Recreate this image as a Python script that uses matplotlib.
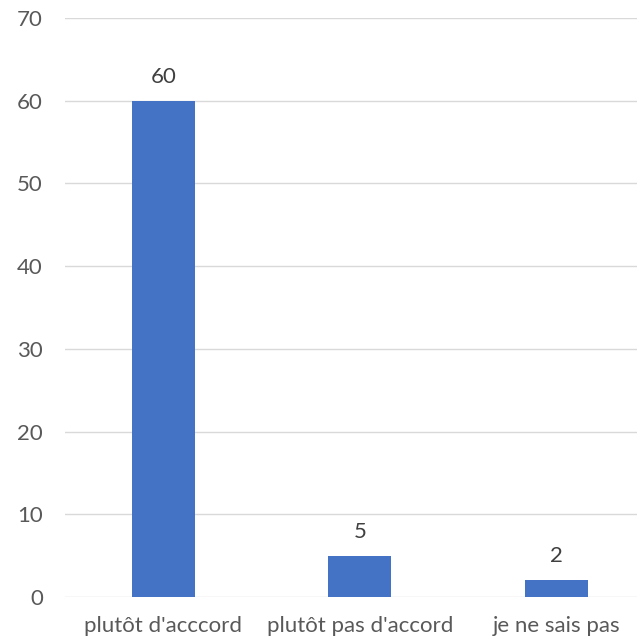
import matplotlib
matplotlib.use("Agg")
import matplotlib.pyplot as plt

categories = ["plutôt d'acccord", "plutôt pas d'accord", "je ne sais pas"]
values = [60, 5, 2]
y_ticks = [0, 10, 20, 30, 40, 50, 60, 70]

plt.rcParams['font.family'] = ['Lato', 'DejaVu Sans']
text_color = '#595959'

fig = plt.figure(figsize=(6.37, 6.38), dpi=100)
ax = fig.add_axes([65 / 637, 1 - 597 / 638, 1 - 65 / 637, (597 - 18) / 638])

x = list(range(len(categories)))
ax.bar(x, values, width=0.32, color='#4472C4', zorder=3)
# value labels above the bars
for xi, v in zip(x, values):
    ax.annotate(str(v), (xi, v), xytext=(0, 13), textcoords='offset points',
                ha='center', va='baseline', fontsize=16, color='#404040')

ax.set_ylim(0, 70)
ax.set_xlim(-0.5, 2.41)
ax.set_yticks(y_ticks)
ax.set_xticks(x)
ax.set_xticklabels(categories)
ax.grid(axis='y', color='#D9D9D9', linewidth=1, zorder=0)
for s in ax.spines.values():
    s.set_visible(False)
ax.tick_params(axis='both', length=0, labelsize=16, labelcolor=text_color)
ax.tick_params(axis='y', pad=16)
ax.tick_params(axis='x', pad=14)

fig.savefig('out.png', dpi=100)
